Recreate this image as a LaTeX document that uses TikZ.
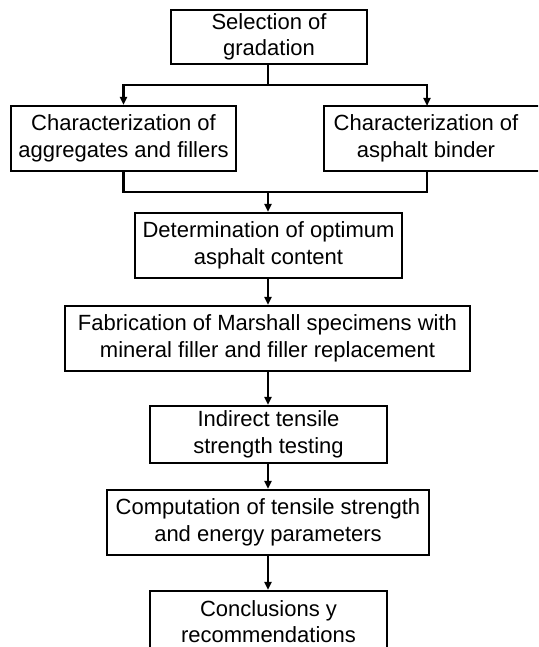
\documentclass[tikz,border=0pt]{standalone}
\usepackage{fontspec}
\setmainfont{Liberation Sans}
\usetikzlibrary{arrows.meta}
\tikzset{
  box/.style={draw, line width=2.2pt, align=center, inner sep=0pt,
    font=\fontsize{22}{26.5}\selectfont},
  conn/.style={line width=2.4pt},
  arr/.style={conn, -{Triangle[width=7pt,length=8pt]}}
}
\begin{document}
\begin{tikzpicture}[x=1pt,y=-1pt]
\useasboundingbox (0,0) rectangle (538,647);
\clip (0,0) rectangle (538,647);
\node[box, minimum width=196pt, minimum height=54pt] (b1) at (269,37) {Selection of\\gradation};
\node[box, minimum width=225pt, minimum height=65pt] (b2) at (123.5,138.5) {Characterization of\\aggregates and fillers};
\node[box, minimum width=226pt, minimum height=65pt] (b3) at (437,138.5) {\begin{tabular}{@{}c@{}}Characterization of\\asphalt binder\end{tabular}\hspace*{22pt}};
\node[box, minimum width=267pt, minimum height=65pt] (b4) at (268.5,245.5) {Determination of optimum\\asphalt content};
\node[box, minimum width=405pt, minimum height=65pt] (b5) at (267.5,338.5) {Fabrication of Marshall specimens with\\mineral filler and filler replacement};
\node[box, minimum width=237pt, minimum height=57pt] (b6) at (268.5,434.5) {Indirect tensile\\strength testing};
\node[box, minimum width=322pt, minimum height=65pt] (b7) at (268,522.5) {Computation of tensile strength\\and energy parameters};
\node[box, minimum width=237pt, minimum height=61pt] (b8) at (268.5,621.5) {Conclusions y\\recommendations};
\coordinate (j1) at (268,85);
\coordinate (j2) at (268,192);
\coordinate (b3top) at (427,106);
\coordinate (b3bot) at (427,171);
\draw[conn] (b1.south -| j1) -- (j1);
\draw[arr] (j1) -| (b2.north);
\draw[arr] (j1) -| (b3top);
\draw[conn] (b2.south) |- (j2);
\draw[conn] (b3bot) |- (j2);
\draw[arr] (j2) -- (b4.north -| j2);
\draw[arr] (b4.south -| j2) -- (b5.north -| j2);
\draw[arr] (b5.south -| j2) -- (b6.north -| j2);
\draw[arr] (b6.south -| j2) -- (b7.north -| j2);
\draw[arr] (b7.south -| j2) -- (b8.north -| j2);
\end{tikzpicture}
\end{document}
